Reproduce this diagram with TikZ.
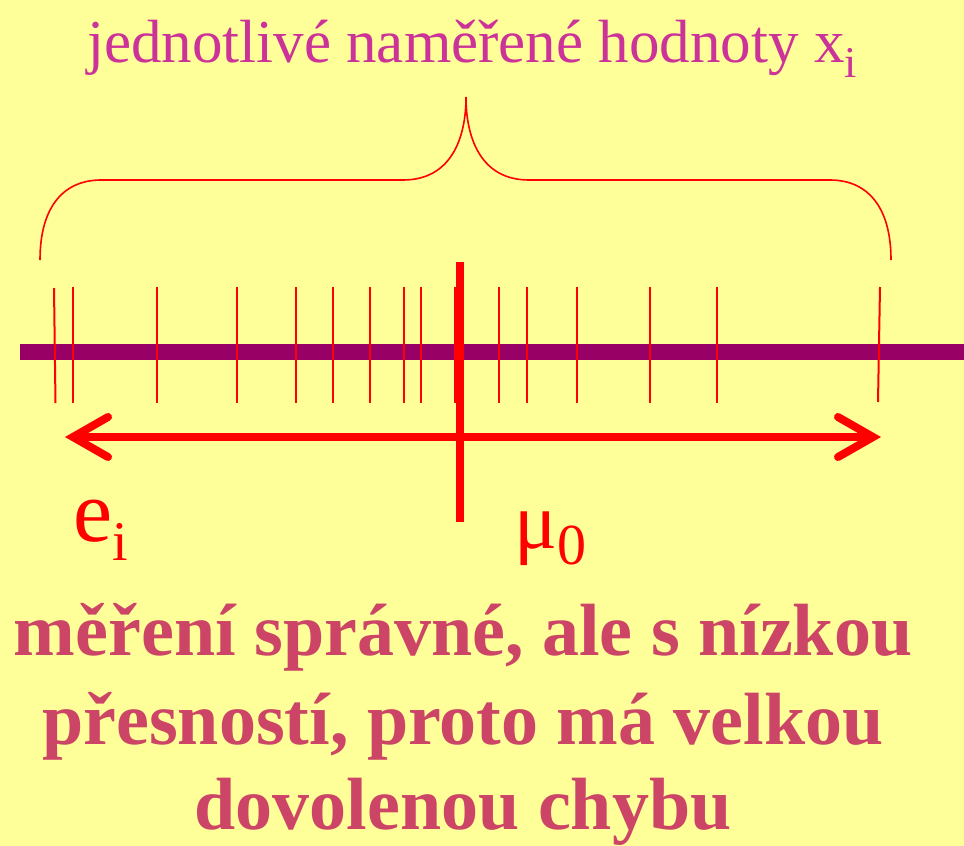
\documentclass[tikz,border=0pt]{standalone}
\usepackage{fontspec}
\setmainfont{Liberation Serif}[BoldFont={Liberation Serif Bold},ItalicFont={Liberation Serif Italic}]
\definecolor{bgyellow}{HTML}{FFFF99}
\definecolor{axispurple}{HTML}{990066}
\definecolor{topmagenta}{HTML}{CC3399}
\definecolor{bottompink}{RGB}{204,68,102}
\begin{document}
\begin{tikzpicture}[x=1pt,y=-1pt,
  tick/.style={draw=red,line width=2pt},
  axisline/.style={draw=axispurple,line width=16pt},
  bracestyle/.style={draw=red,line width=1.6pt},
  arrowstyle/.style={draw=red,line width=8pt},
  headstyle/.style={draw=red,line width=8pt,line cap=round,line join=miter},
  meanline/.style={draw=red,line width=8pt},
  toplabel/.style={text=topmagenta,inner sep=0pt,anchor=base west},
  redlabel/.style={text=red,inner sep=0pt,anchor=base west},
  bottomlabel/.style={text=bottompink,inner sep=0pt,anchor=base,font=\fontsize{74}{74}\selectfont\bfseries}
]
\useasboundingbox[fill=bgyellow] (0,0) rectangle (964,846);

% title
\node[toplabel] (title) at (87,62) {\rmfamily\fontsize{61}{61}\selectfont jednotlivé naměřené hodnoty x\raisebox{-15pt}{\fontsize{44}{44}\selectfont i}};

% brace
\draw[bracestyle] (40,260) .. controls (40,205) and (65,180) .. (101,180) -- (403,180)
  .. controls (450,180) and (466,140) .. (466,97)
  .. controls (466,140) and (482,180) .. (529,180) -- (830,180)
  .. controls (866,180) and (891,205) .. (891,260);

% axis
\coordinate (axL) at (20,352);
\coordinate (axR) at (964,352);
\draw[axisline] (axL) -- (axR);

% ticks
\draw[tick] (54,288) -- (55.5,403);
\foreach \x in {73,157,237,296,333,370,404,421,455,499,527,577,650,717}
  \draw[tick] (\x,287) -- (\x,403);
\draw[tick] (880,287) -- (878,402);

% double arrow
\coordinate (arL) at (73,437);
\coordinate (arR) at (873,437);
\draw[arrowstyle] (arL) -- (arR);
\draw[headstyle] ([shift={(35,-20)}]arL) -- (arL) -- ([shift={(35,20)}]arL);
\draw[headstyle] ([shift={(-35,-20)}]arR) -- (arR) -- ([shift={(-35,20)}]arR);

% mean line
\coordinate (mTop) at (460,262);
\coordinate (mBot) at (460,522);
\draw[meanline] (mTop) -- (mBot);

% labels
\node[redlabel] (ei) at (73,541) {\rmfamily\fontsize{88}{88}\selectfont e\raisebox{-19pt}{\fontsize{56}{56}\selectfont i}};
\node[redlabel] (mu) at (514,548) {\rmfamily\fontsize{80}{80}\selectfont μ\raisebox{-16pt}{\fontsize{58}{58}\selectfont 0}};

% bottom text
\node[bottomlabel] (b1) at (463,655) {\rmfamily měření správné, ale s nízkou};
\node[bottomlabel] (b2) at (463,744) {\rmfamily přesností, proto má velkou};
\node[bottomlabel] (b3) at (463,829) {\rmfamily dovolenou chybu};
\end{tikzpicture}
\end{document}
